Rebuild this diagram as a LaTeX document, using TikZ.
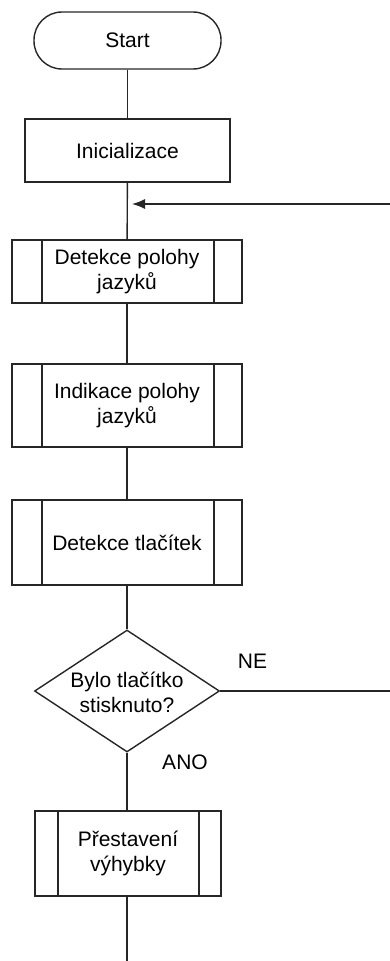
\documentclass[tikz,border=0pt]{standalone}
\usepackage{fontspec}
\setmainfont{Liberation Sans}
\usetikzlibrary{shapes.geometric,arrows.meta}
\tikzset{
  x=1pt, y=-1pt,
  conn/.style={draw=black!85, line width=1.4pt},
  box/.style={draw=black!85, line width=1.4pt, inner sep=0pt, align=center,
    font=\fontsize{21}{25}\selectfont},
  subbox/.style 2 args={box, path picture={
    \draw[line width=1.4pt, draw=black!85]
      ([xshift=#1]path picture bounding box.north west) -- ([xshift=#1]path picture bounding box.south west)
      ([xshift=-#2]path picture bounding box.north east) -- ([xshift=-#2]path picture bounding box.south east);}},
  lbl/.style={font=\fontsize{21}{25}\selectfont, inner sep=0pt},
}
\begin{document}
\begin{tikzpicture}
\useasboundingbox (0,0) rectangle (390,961);
\node[box, rounded corners=28pt, minimum width=187pt, minimum height=57pt] (start) at (127.5,40.5) {Start};
\node[box, minimum width=205pt, minimum height=63pt] (init) at (127.5,150.5) {Inicializace};
\node[subbox={30pt}{28pt}, minimum width=230pt, minimum height=63pt] (det1) at (127,271.5) {Detekce polohy\\jazyků};
\node[subbox={30pt}{28pt}, minimum width=230pt, minimum height=83pt] (ind) at (127,405.5) {Indikace polohy\\jazyků};
\node[subbox={30pt}{28pt}, minimum width=230pt, minimum height=85pt] (dettl) at (127,542.5) {Detekce tlačítek};
\node[draw=black!85, line width=1.4pt, diamond, inner sep=0pt, minimum width=185pt, minimum height=122pt] (dec) at (127,691) {};
\node[lbl, align=center] (dectext) at (127,692) {Bylo tlačítko\\stisknuto?};
\node[subbox={23pt}{22pt}, minimum width=186pt, minimum height=85pt] (prest) at (128,853.5) {Přestavení\\výhybky};
\node[lbl] (ne) at (252.5,661) {NE};
\node[lbl] (ano) at (185,762.5) {ANO};
\coordinate (merge) at (127,204);
\coordinate (loopin) at (390,204);
\coordinate (neout) at (390,691);
\coordinate (endpt) at (127,961);
\draw[conn] (start) -- (init);
\draw[conn] (init) -- (det1);
\draw[conn] (det1) -- (ind);
\draw[conn] (ind) -- (dettl);
\draw[conn] (dettl) -- (dec);
\draw[conn] (dec) -- (prest.north -| dec);
\draw[conn] (prest.south -| dec) -- (endpt);
\draw[conn] (dec.east) -- (neout);
\draw[conn, -{Latex[length=13pt,width=10pt]}] (loopin) -- ([xshift=5pt]merge);
\end{tikzpicture}
\end{document}
